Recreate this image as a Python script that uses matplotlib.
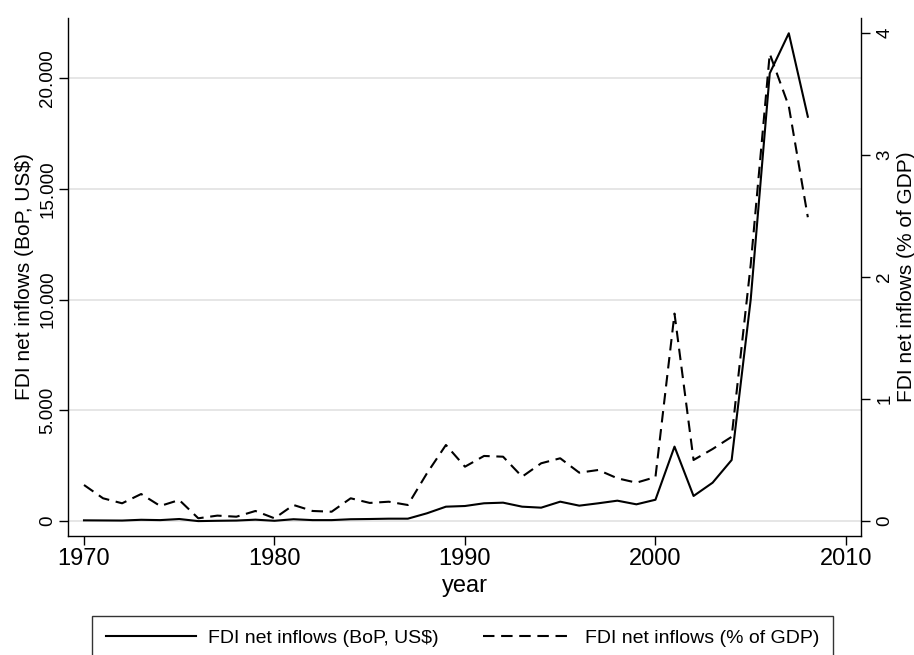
import matplotlib
matplotlib.use("Agg")
import matplotlib.pyplot as plt
from matplotlib.ticker import FuncFormatter

plt.rcParams['font.family'] = ['Liberation Sans', 'DejaVu Sans']

years = list(range(1970, 2009))
# FDI net inflows, BoP, current US$ (millions)
fdi_usd = [30, 25, 20, 55, 40, 90, -5, 10, 20, 60,
           10, 80, 40, 40, 80, 90, 105, 105, 347, 647,
           677, 800, 828, 647, 602, 873, 693, 800, 918, 753,
           960, 3360, 1130, 1730, 2755, 10000, 20220, 22030, 18260]
# FDI net inflows, % of GDP
fdi_gdp = [0.295, 0.186, 0.145, 0.221, 0.123, 0.172, 0.022, 0.044, 0.035, 0.082,
           0.022, 0.131, 0.082, 0.076, 0.186, 0.148, 0.158, 0.131, 0.39, 0.623,
           0.445, 0.533, 0.527, 0.363, 0.473, 0.514, 0.396, 0.418, 0.35, 0.314,
           0.36, 1.70, 0.50, 0.59, 0.69, 2.1, 3.83, 3.40, 2.49]

left_ticks = [0, 5000, 10000, 15000, 20000]
right_ticks = [0, 1, 2, 3, 4]
x_ticks = [1970, 1980, 1990, 2000, 2010]
label_usd = 'FDI net inflows (BoP, US$)'
label_gdp = 'FDI net inflows (% of GDP)'

fig = plt.figure(figsize=(9.14, 6.55), dpi=100)
ax = fig.add_axes([0.0744, 0.1817, 0.8676, 0.7908])
ax2 = ax.twinx()

for g in left_ticks:
    ax.axhline(g, color='#e4e4e4', lw=1.3, zorder=0)

l1, = ax.plot(years, fdi_usd, color='black', lw=1.5, zorder=3)
l2, = ax2.plot(years, fdi_gdp, color='black', lw=1.5, dashes=(5.5, 3.2))

ax.set_xlim(1969.16, 2010.79)
ax.set_ylim(-677, 22719)
ax2.set_ylim(-0.123, 4.123)

ax.set_xticks(x_ticks)
ax.set_yticks(left_ticks)
ax2.set_yticks(right_ticks)
ax.yaxis.set_major_formatter(FuncFormatter(lambda v, p: f'{int(v):,}'.replace(',', '.')))

for a in (ax, ax2):
    a.spines['top'].set_visible(False)
    for s in a.spines.values():
        s.set_linewidth(1.0)
ax.spines['right'].set_visible(False)
ax2.spines['left'].set_visible(False)
ax2.spines['bottom'].set_visible(False)

ax.tick_params(axis='x', direction='out', length=6.5, width=1, labelsize=17, pad=2)
ax.tick_params(axis='y', direction='out', length=6.5, width=1, labelsize=13.5, pad=2)
ax2.tick_params(axis='y', direction='out', length=6.5, width=1, labelsize=13.5, pad=4.5)
for t in ax.get_yticklabels() + ax2.get_yticklabels():
    t.set_rotation(90)
    t.set_va('center')

ax.set_xlabel('year', fontsize=17, labelpad=4)
ax.set_ylabel(label_usd, fontsize=15, labelpad=4)
ax2.set_ylabel(label_gdp, fontsize=15, labelpad=2.5)

leg = fig.legend([l1, l2], [label_usd, label_gdp], loc='upper center',
                 bbox_to_anchor=(0.506, 0.0595), ncol=2, fontsize=14,
                 frameon=True, fancybox=False, handlelength=4.63,
                 handletextpad=0.6, columnspacing=2.3, borderpad=0.7,
                 borderaxespad=0)
leg.get_frame().set_edgecolor('black')
leg.get_frame().set_linewidth(1.0)

fig.savefig('out.png', dpi=100)
